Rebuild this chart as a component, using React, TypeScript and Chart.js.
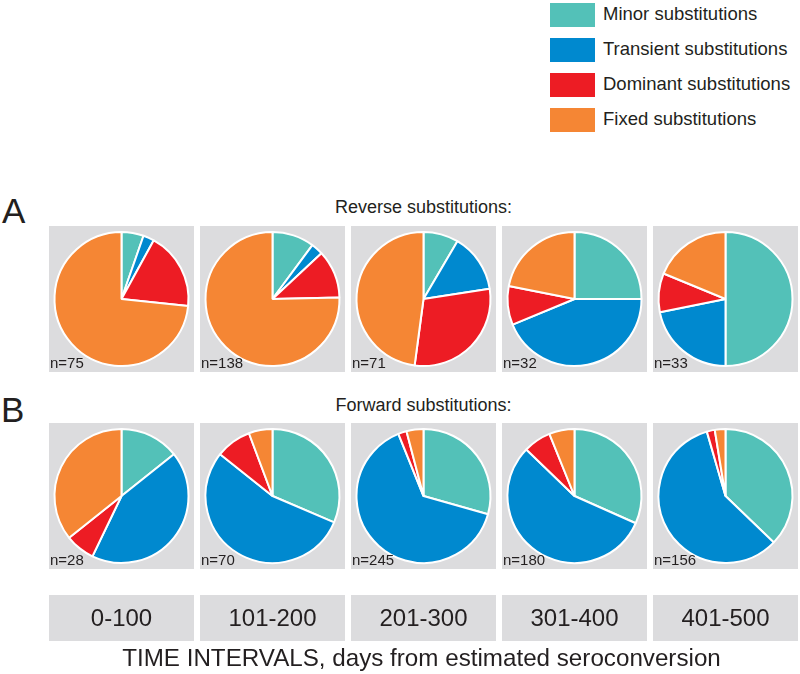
import React, { useEffect, useRef } from "react";
import { Chart, registerables } from "chart.js";

Chart.register(...registerables);

const categories = [
  "Minor substitutions",
  "Transient substitutions",
  "Dominant substitutions",
  "Fixed substitutions",
];
const colors = ["#53C1B8", "#0089CF", "#ED1C24", "#F58634"];
const intervals = ["0-100", "101-200", "201-300", "301-400", "401-500"];

const reverseN = [75, 138, 71, 32, 33];
const reverseMinor = [4, 14, 6, 8, 16.5];
const reverseTransient = [2, 4, 10, 14, 7.2];
const reverseDominant = [14, 16, 21, 3, 3.1];
const reverseFixed = [55, 104, 34, 7, 6.2];

const forwardN = [28, 70, 245, 180, 156];
const forwardMinor = [4, 22, 72, 57, 58];
const forwardTransient = [12, 38, 158, 100, 91];
const forwardDominant = [2, 6, 5, 12, 3];
const forwardFixed = [10, 4, 10, 11, 4];

const FONT = '"Liberation Sans", Arial, Helvetica, sans-serif';
const TEXT = "#231F20";
const PANEL_BG = "#DCDCDE";
const PANEL_X = [49, 200, 351, 502, 653];
const PANEL_W = 145;
const PANEL_H = 146;
const ROW_A_Y = 226;
const ROW_B_Y = 423;

function Pie({ values, left, top, n }: { values: number[]; left: number; top: number; n: number }) {
  const ref = useRef<HTMLCanvasElement | null>(null);
  useEffect(() => {
    if (!ref.current) return;
    const chart = new Chart(ref.current, {
      type: "pie",
      data: {
        labels: categories,
        datasets: [
          {
            data: values,
            backgroundColor: colors,
            borderColor: "#FFFFFF",
            borderWidth: 2,
          },
        ],
      },
      options: {
        animation: false,
        responsive: false,
        radius: 67,
        events: [],
        layout: { padding: 0 },
        plugins: { legend: { display: false }, tooltip: { enabled: false } },
      },
    });
    return () => chart.destroy();
  }, []);
  return (
    <div style={{ position: "absolute", left, top, width: PANEL_W, height: PANEL_H, background: PANEL_BG }}>
      <canvas ref={ref} width={PANEL_W} height={PANEL_H} style={{ display: "block" }} />
      <div
        style={{
          position: "absolute",
          left: 1,
          top: PANEL_H - 4 - 0.8465 * 15,
          fontFamily: FONT,
          fontSize: 15,
          lineHeight: "15px",
          color: TEXT,
          whiteSpace: "nowrap",
        }}
      >
        n={n}
      </div>
    </div>
  );
}

function Label({ text, left, baseline, size, center }: { text: string; left: number; baseline: number; size: number; center?: boolean }) {
  return (
    <div
      style={{
        position: "absolute",
        left: center ? left - 300 : left,
        width: center ? 600 : undefined,
        textAlign: center ? "center" : "left",
        top: baseline - 0.8465 * size,
        fontFamily: FONT,
        fontSize: size,
        lineHeight: `${size}px`,
        color: TEXT,
        whiteSpace: "nowrap",
      }}
    >
      {text}
    </div>
  );
}

export default function App() {
  const reverse = intervals.map((_, i) => [reverseMinor[i], reverseTransient[i], reverseDominant[i], reverseFixed[i]]);
  const forward = intervals.map((_, i) => [forwardMinor[i], forwardTransient[i], forwardDominant[i], forwardFixed[i]]);
  return (
    <div style={{ position: "absolute", left: 0, top: 0, width: 800, height: 674, background: "#FFFFFF", overflow: "hidden" }}>
      {categories.map((c, i) => (
        <React.Fragment key={c}>
          <div style={{ position: "absolute", left: 550, top: 3 + 35 * i, width: 45, height: 24, background: colors[i] }} />
          <Label text={c} left={603} baseline={21 + 35 * i} size={18.5} />
        </React.Fragment>
      ))}
      <Label text="A" left={2} baseline={223} size={35} />
      <Label text="B" left={1} baseline={422} size={35} />
      <Label text="Reverse substitutions:" left={423.5} baseline={213} size={18} center />
      <Label text="Forward substitutions:" left={423.5} baseline={411} size={18} center />
      {intervals.map((iv, i) => (
        <Pie key={"r" + iv} values={reverse[i]} left={PANEL_X[i]} top={ROW_A_Y} n={reverseN[i]} />
      ))}
      {intervals.map((iv, i) => (
        <Pie key={"f" + iv} values={forward[i]} left={PANEL_X[i]} top={ROW_B_Y} n={forwardN[i]} />
      ))}
      {intervals.map((iv, i) => (
        <React.Fragment key={"b" + iv}>
          <div
            style={{
              position: "absolute",
              left: PANEL_X[i],
              top: 595,
              width: PANEL_W,
              height: 46,
              background: PANEL_BG,
            }}
          />
          <Label text={iv} left={PANEL_X[i] + PANEL_W / 2} baseline={626} size={24} center />
        </React.Fragment>
      ))}
      <Label text="TIME INTERVALS, days from estimated seroconversion" left={421.5} baseline={666} size={24.2} center />
    </div>
  );
}
